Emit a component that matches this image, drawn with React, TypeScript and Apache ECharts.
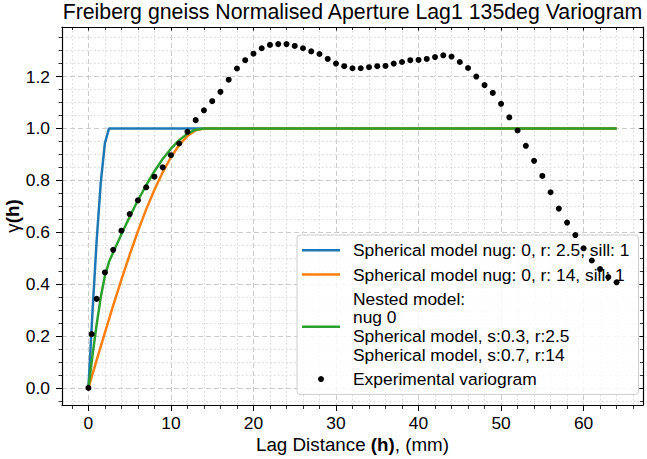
import React, { useEffect, useRef } from "react";
import * as echarts from "echarts";

const TITLE = "Freiberg gneiss Normalised Aperture Lag1 135deg Variogram";
const FONT = "'Liberation Sans', Arial, Helvetica, sans-serif";

// Experimental variogram (lag distance, gamma)
const expLags = [
  0, 0.4, 1, 2, 3, 4, 5, 6, 7, 8, 9, 10, 11, 12, 13, 14, 15, 16, 17, 18, 19, 20,
  21, 22, 23, 24, 25, 26, 27, 28, 29, 30, 31, 32, 33, 34, 35, 36, 37, 38, 39, 40,
  41, 42, 43, 44, 45, 46, 47, 48, 49, 50, 51, 52, 53, 54, 55, 56, 57, 58, 59, 60,
  61, 62, 63, 64,
];
const expGamma = [
  0, 0.207, 0.343, 0.445, 0.532, 0.606, 0.67, 0.723, 0.773, 0.814, 0.85, 0.897,
  0.942, 0.987, 1.032, 1.07, 1.105, 1.141, 1.188, 1.231, 1.263, 1.288, 1.309,
  1.322, 1.325, 1.325, 1.318, 1.309, 1.297, 1.287, 1.268, 1.25, 1.24, 1.232,
  1.232, 1.236, 1.24, 1.241, 1.25, 1.256, 1.263, 1.264, 1.268, 1.275, 1.282,
  1.277, 1.256, 1.233, 1.2, 1.167, 1.137, 1.095, 1.043, 0.992, 0.933, 0.875,
  0.817, 0.754, 0.691, 0.637, 0.589, 0.538, 0.491, 0.458, 0.427, 0.407,
];

// Spherical model, r 2.5
const sph25Lags = [0, 0.5, 1, 1.5, 2, 2.5, 64];
const sph25Gamma = [0, 0.296, 0.568, 0.792, 0.944, 1, 1];

// Spherical model, r 14
const sph14Lags = [0, 1, 2, 3, 4, 5, 6, 7, 8, 9, 10, 11, 12, 13, 14, 64];
const sph14Gamma = [
  0, 0.107, 0.213, 0.317, 0.417, 0.513, 0.604, 0.688, 0.764, 0.831, 0.889,
  0.936, 0.971, 0.993, 1, 1,
];

// Nested model
const nestedLags = [0, 0.5, 1, 1.5, 2, 2.5, 3, 4, 5, 6, 7, 8, 9, 10, 11, 12, 13, 14, 64];
const nestedGamma = [
  0, 0.126, 0.245, 0.35, 0.432, 0.486, 0.522, 0.592, 0.659, 0.723, 0.781, 0.835,
  0.882, 0.922, 0.955, 0.98, 0.995, 1, 1,
];

const xTicks = [0, 10, 20, 30, 40, 50, 60];
const yTicks = [0, 0.2, 0.4, 0.6, 0.8, 1.0, 1.2];

const seriesNames = [
  "Spherical model nug: 0, r: 2.5, sill: 1",
  "Spherical model nug: 0, r: 14, sill: 1",
  "Nested model:\nnug 0\nSpherical model, s:0.3, r:2.5\nSpherical model, s:0.7, r:14",
  "Experimental variogram",
];
const seriesColors = ["#1f77b4", "#ff7f0e", "#2ca02c", "#000000"];

const X_MIN = -3.2;
const X_MAX = 67.2;
const Y_MIN = -0.066;
const Y_MAX = 1.391;

// legend handle: a 38 x 2.5 bar inside a 38 x 6 box
const LINE_ICON =
  "path://M0,0L0.01,0L0.01,0.01ZM0,1.75L38,1.75L38,4.25L0,4.25ZM0,5.99L0.01,5.99L0.01,6Z";

const pairs = (xs: number[], ys: number[]) => xs.map((x, i) => [x, ys[i]]);

export default function App() {
  const ref = useRef<HTMLDivElement>(null);

  useEffect(() => {
    if (!ref.current) return;
    const chart = echarts.init(ref.current, null, { renderer: "svg" });

    const majorSplit = { show: true, lineStyle: { color: "#cbcbcb", width: 1, type: [5, 3] } };
    const minorSplit = { show: true, lineStyle: { color: "#d9d9d9", width: 1, type: [1.5, 2.5] } };
    const blackLine = { show: true, onZero: false, lineStyle: { color: "#000", width: 1.2 } };

    const option: any = {
      animation: false,
      textStyle: { fontFamily: FONT },
      title: {
        text: TITLE,
        left: 352.5,
        top: 0,
        padding: 0,
        textAlign: "center",
        textStyle: { fontSize: 21.3, fontWeight: "normal", color: "#000", lineHeight: 24, fontFamily: FONT },
      },
      grid: { left: 62, right: 4, top: 27, bottom: 54, containLabel: false, outerBoundsMode: "none" },
      legend: {
        orient: "vertical",
        left: 297,
        top: 235,
        padding: [6, 9, 6, 5],
        itemGap: 5.5,
        itemWidth: 38,
        itemHeight: 6,
        selectedMode: false,
        backgroundColor: "rgba(255,255,255,0.8)",
        borderColor: "#cccccc",
        borderWidth: 1,
        borderRadius: 3,
        textStyle: { fontSize: 17.4, lineHeight: 18.7, color: "#000", fontFamily: FONT, padding: [0, 0, 0, 8] },
        data: [
          { name: seriesNames[0], icon: LINE_ICON, itemStyle: { color: seriesColors[0] } },
          { name: seriesNames[1], icon: LINE_ICON, itemStyle: { color: seriesColors[1] } },
          { name: seriesNames[2], icon: LINE_ICON, itemStyle: { color: seriesColors[2] } },
          { name: seriesNames[3], icon: "circle", itemStyle: { color: seriesColors[3] } },
        ],
      },
      xAxis: [
        {
          type: "value",
          min: X_MIN,
          max: X_MAX,
          splitNumber: 7,
          position: "bottom",
          name: "Lag Distance {b|(h)}, (mm)",
          nameLocation: "middle",
          nameGap: 30,
          nameMoveOverlap: false,
          nameTextStyle: {
            fontSize: 18.8,
            color: "#000",
            fontFamily: FONT,
            rich: { b: { fontSize: 18.8, fontWeight: "bold", color: "#000", fontFamily: FONT } },
          },
          axisLine: blackLine,
          axisTick: { show: true, length: 6, customValues: xTicks, lineStyle: { color: "#000", width: 1 } },
          minorTick: { show: true, splitNumber: 5, length: 4, lineStyle: { color: "#000", width: 0.8 } },
          axisLabel: { customValues: xTicks, margin: 9, fontSize: 17.4, color: "#000", fontFamily: FONT },
          splitLine: majorSplit,
          minorSplitLine: minorSplit,
        },
        {
          type: "value",
          min: X_MIN,
          max: X_MAX,
          splitNumber: 7,
          position: "top",
          axisLine: blackLine,
          axisTick: { show: true, inside: true, length: 3.5, customValues: xTicks, lineStyle: { color: "#000", width: 1 } },
          minorTick: { show: true, splitNumber: 5, length: 3, lineStyle: { color: "#000", width: 0.8 } },
          axisLabel: { show: false },
          splitLine: { show: false },
        },
      ],
      yAxis: [
        {
          type: "value",
          min: Y_MIN,
          max: Y_MAX,
          splitNumber: 7,
          position: "left",
          name: "γ{b|(h)}",
          nameLocation: "middle",
          nameGap: 40,
          nameMoveOverlap: false,
          nameTextStyle: {
            fontSize: 18.8,
            color: "#000",
            fontFamily: FONT,
            rich: { b: { fontSize: 18.8, fontWeight: "bold", color: "#000", fontFamily: FONT } },
          },
          axisLine: blackLine,
          axisTick: { show: true, length: 6, customValues: yTicks, lineStyle: { color: "#000", width: 1 } },
          minorTick: { show: true, splitNumber: 4, length: 3.5, lineStyle: { color: "#000", width: 0.8 } },
          axisLabel: {
            customValues: yTicks,
            margin: 12,
            fontSize: 17.4,
            color: "#000",
            fontFamily: FONT,
            formatter: (v: number) => v.toFixed(1),
          },
          splitLine: majorSplit,
          minorSplitLine: minorSplit,
        },
        {
          type: "value",
          min: Y_MIN,
          max: Y_MAX,
          splitNumber: 7,
          position: "right",
          axisLine: blackLine,
          axisTick: { show: true, inside: true, length: 3.5, customValues: yTicks, lineStyle: { color: "#000", width: 1 } },
          minorTick: { show: true, splitNumber: 4, length: 3, lineStyle: { color: "#000", width: 0.8 } },
          axisLabel: { show: false },
          splitLine: { show: false },
        },
      ],
      series: [
        {
          name: seriesNames[0],
          type: "line",
          data: pairs(sph25Lags, sph25Gamma),
          symbol: "none",
          lineStyle: { color: seriesColors[0], width: 2.5 },
          itemStyle: { color: seriesColors[0] },
          z: 2,
        },
        {
          name: seriesNames[1],
          type: "line",
          data: pairs(sph14Lags, sph14Gamma),
          symbol: "none",
          lineStyle: { color: seriesColors[1], width: 2.5 },
          itemStyle: { color: seriesColors[1] },
          z: 3,
        },
        {
          name: seriesNames[2],
          type: "line",
          data: pairs(nestedLags, nestedGamma),
          symbol: "none",
          lineStyle: { color: seriesColors[2], width: 2.5 },
          itemStyle: { color: seriesColors[2] },
          z: 4,
        },
        {
          name: seriesNames[3],
          type: "scatter",
          data: pairs(expLags, expGamma),
          symbol: "circle",
          symbolSize: 6,
          itemStyle: { color: seriesColors[3], opacity: 1 },
          z: 5,
        },
      ],
    };

    chart.setOption(option);
    return () => chart.dispose();
  }, []);

  return (
    <div
      ref={ref}
      style={{ position: "fixed", left: 0, top: 0, width: 647, height: 459, background: "#fff" }}
    />
  );
}
